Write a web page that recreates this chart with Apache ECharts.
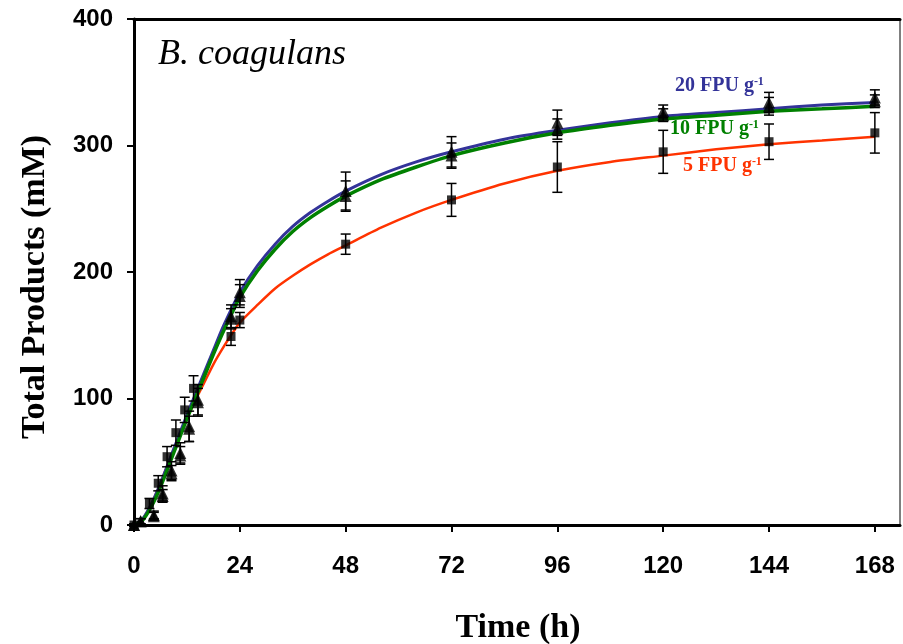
<!DOCTYPE html>
<html><head><meta charset="utf-8">
<script src="https://cdn.jsdelivr.net/npm/echarts@6/dist/echarts.min.js"></script>
<style>html,body{margin:0;padding:0;background:#fff}#c{width:903px;height:644px}</style>
</head><body><div id="c"></div>
<script>
// ---- data ----
const xTicks = [0, 24, 48, 72, 96, 120, 144, 168];
const yTicks = [0, 100, 200, 300, 400];

// measured points (mean, sd)
const hours5 = [0, 3.5, 5.5, 7.5, 9.5, 11.5, 13.5, 22, 24, 48, 72, 96, 120, 144, 168];
const mean5  = [0, 17, 33, 54, 73, 91, 108, 149, 162, 222, 257, 283, 295, 303, 310];
const sd5    = [1, 4, 6, 8, 10, 10, 10, 7, 6, 8, 13, 20, 17, 14, 16];

const hours10 = [0, 1.5, 4.5, 6.5, 8.5, 10.5, 12.5, 14.5, 22, 24, 48, 72, 96, 120, 144, 168];
const mean10  = [0, 3, 7, 23, 41, 55, 76, 97, 163, 181, 260, 292, 313, 324, 331, 335];
const sd10    = [1, 2, 3, 5, 6, 7, 10, 11, 8, 9, 12, 10, 8, 5, 7, 5];

const hours20 = [0, 1.5, 4.5, 6.5, 8.5, 10.5, 12.5, 14.5, 22, 24, 48, 72, 96, 120, 144, 168];
const mean20  = [0, 3, 8, 25, 43, 57, 78, 99, 165, 184, 264, 295, 318, 327, 334, 338];
const sd20    = [1, 2, 3, 6, 7, 8, 12, 12, 9, 10, 15, 12, 10, 5, 8, 6];

// fitted curves
const fitHours = [0, 2, 4, 6, 8, 10, 12, 14, 16, 18, 20, 22, 24, 28, 32, 36, 40, 44, 48, 56, 64, 72, 84, 96, 108, 120, 132, 144, 156, 168];
const fit20 = [0, 5, 17, 33, 51, 69, 87, 104, 121, 138, 155, 170, 184, 205, 222, 236, 247, 256, 264, 277, 287, 295, 305, 312, 318, 323, 326, 329, 332, 334];
const fit10 = [0, 4, 15, 30, 48, 66, 84, 101, 118, 135, 151, 166, 180, 201, 218, 232, 243, 252, 260, 273, 283, 292, 302, 310, 316, 321, 324, 327, 329, 331];
const fit5  = [0, 5, 17, 33, 51, 68, 84, 99, 113, 127, 139, 150, 160, 174, 187, 197, 206, 214, 221, 235, 247, 257, 270, 280, 287, 292, 297, 301, 304, 307];

const seriesNames = ['5 FPU g', '10 FPU g', '20 FPU g'];
// ---------------------------------------

const zip = (xs, ys) => xs.map((x, i) => [x, ys[i]]);
const zip3 = (xs, ys, es) => xs.map((x, i) => [x, ys[i], es[i]]);

function errRender(params, api) {
  const x = api.value(0), y = api.value(1), e = api.value(2);
  const top = api.coord([x, y + e]);
  const bot = api.coord([x, y - e]);
  const hw = 5;
  const st = { stroke: '#000', lineWidth: 1.5 };
  return { type: 'group', children: [
    { type: 'line', shape: { x1: top[0], y1: top[1], x2: bot[0], y2: bot[1] }, style: st },
    { type: 'line', shape: { x1: top[0] - hw, y1: top[1], x2: top[0] + hw, y2: top[1] }, style: st },
    { type: 'line', shape: { x1: bot[0] - hw, y1: bot[1], x2: bot[0] + hw, y2: bot[1] }, style: st }
  ]};
}
function errSeries(xs, ys, es) {
  return { type: 'custom', renderItem: errRender, data: zip3(xs, ys, es), z: 5,
    encode: { x: 0, y: 1 }, silent: true, clip: false };
}
function curve(ys, color, w, z) {
  return { type: 'line', data: zip(fitHours, ys), smooth: 0.25,
    showSymbol: false, symbol: 'none', lineStyle: { color: color, width: w }, z: z, silent: true };
}
function pts(xs, ys, sym, size) {
  return { type: 'scatter', data: zip(xs, ys), symbol: sym, symbolSize: size,
    itemStyle: { color: '#000' }, z: 6, silent: true };
}

const chart = echarts.init(document.getElementById('c'), null, { renderer: 'canvas' });
const tickFont = { fontFamily: 'Liberation Sans', fontWeight: 'bold', fontSize: 24, color: '#000' };
const serif = 'Liberation Serif';

function labelText(txt, color) {
  return { text: '{a|' + txt + '}{b|-1}',
    rich: { a: { fontFamily: serif, fontWeight: 'bold', fontSize: 20, fill: color, color: color },
            b: { fontFamily: serif, fontWeight: 'bold', fontSize: 12, fill: color, color: color, verticalAlign: 'top' } } };
}

chart.setOption({
  animation: false,
  backgroundColor: '#fff',
  grid: { left: 134, top: 19, right: 3, bottom: 119, show: true, borderColor: '#000', borderWidth: 1 },
  xAxis: [{
    type: 'value', min: 0, max: 173.7, interval: 24,
    axisLine: { show: true, lineStyle: { color: '#000', width: 3 } },
    axisTick: { show: true, inside: false, length: 7, lineStyle: { color: '#000', width: 2 }, customValues: xTicks },
    axisLabel: Object.assign({ margin: 29, customValues: xTicks }, tickFont),
    splitLine: { show: false }
  }, {
    type: 'value', position: 'top', min: 0, max: 173.7,
    axisLine: { show: true, onZero: false, lineStyle: { color: '#000', width: 3 } },
    axisTick: { show: false }, axisLabel: { show: false }, splitLine: { show: false }
  }],
  yAxis: {
    type: 'value', min: 0, max: 400, interval: 100,
    axisLine: { show: true, lineStyle: { color: '#000', width: 3 } },
    axisTick: { show: true, inside: false, length: 7, lineStyle: { color: '#000', width: 2 }, customValues: yTicks },
    axisLabel: Object.assign({ margin: 21, customValues: yTicks }, tickFont),
    splitLine: { show: false }
  },
  series: [
    curve(fit5, '#ff3300', 2.5, 2),
    curve(fit20, '#333399', 3, 3),
    curve(fit10, '#008000', 3.5, 4),
    errSeries(hours5, mean5, sd5),
    errSeries(hours10, mean10, sd10),
    errSeries(hours20, mean20, sd20),
    pts(hours5, mean5, 'rect', 9),
    pts(hours10, mean10, 'triangle', 12),
    pts(hours20, mean20, 'triangle', 12)
  ],
  graphic: [
    { type: 'text', left: 158, top: 37, style: { text: 'B. coagulans', fontFamily: serif, fontStyle: 'italic', fontSize: 36, fill: '#000' } },
    { type: 'text', x: 35, y: 287, rotation: Math.PI / 2,
      style: { text: 'Total Products (mM)', fontFamily: serif, fontWeight: 'bold', fontSize: 34, fill: '#000', align: 'center', verticalAlign: 'middle' } },
    { type: 'text', x: 518, y: 628, style: { text: 'Time (h)', fontFamily: serif, fontWeight: 'bold', fontSize: 34, fill: '#000', align: 'center', verticalAlign: 'middle' } },
    { type: 'text', x: 675, y: 76, style: labelText(seriesNames[2], '#333399') },
    { type: 'text', x: 670, y: 119, style: labelText(seriesNames[1], '#008000') },
    { type: 'text', x: 683, y: 156, style: labelText(seriesNames[0], '#ff3300') }
  ]
});
</script></body></html>
